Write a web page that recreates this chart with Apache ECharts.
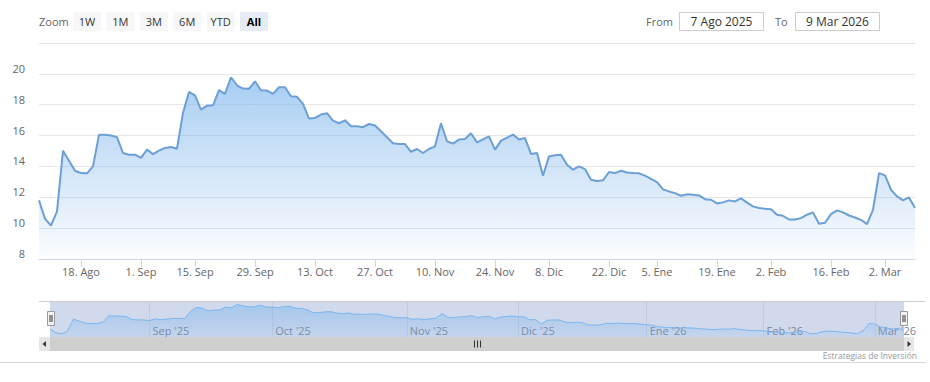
<!DOCTYPE html>
<html><head><meta charset="utf-8">
<script src="https://cdn.jsdelivr.net/npm/echarts@6/dist/echarts.min.js"></script>
<style>html,body{margin:0;padding:0;background:#fff}#c{width:930px;height:382px}</style>
</head><body><div id="c"></div>
<script>
// Trading days (categories)
const dates = [
 '2025-08-07','2025-08-08','2025-08-11','2025-08-12','2025-08-13','2025-08-14','2025-08-15','2025-08-18','2025-08-19','2025-08-20','2025-08-21','2025-08-22','2025-08-25','2025-08-26','2025-08-27','2025-08-28','2025-08-29',
 '2025-09-02','2025-09-03','2025-09-04','2025-09-05','2025-09-08','2025-09-09','2025-09-10','2025-09-11','2025-09-12','2025-09-15','2025-09-16','2025-09-17','2025-09-18','2025-09-19','2025-09-22','2025-09-23','2025-09-24','2025-09-25','2025-09-26','2025-09-29','2025-09-30',
 '2025-10-01','2025-10-02','2025-10-03','2025-10-06','2025-10-07','2025-10-08','2025-10-09','2025-10-10','2025-10-13','2025-10-14','2025-10-15','2025-10-16','2025-10-17','2025-10-20','2025-10-21','2025-10-22','2025-10-23','2025-10-24','2025-10-27','2025-10-28','2025-10-29','2025-10-30','2025-10-31',
 '2025-11-03','2025-11-04','2025-11-05','2025-11-06','2025-11-07','2025-11-10','2025-11-11','2025-11-12','2025-11-13','2025-11-14','2025-11-17','2025-11-18','2025-11-19','2025-11-20','2025-11-21','2025-11-24','2025-11-25','2025-11-26','2025-11-28',
 '2025-12-01','2025-12-02','2025-12-03','2025-12-04','2025-12-05','2025-12-08','2025-12-09','2025-12-10','2025-12-11','2025-12-12','2025-12-15','2025-12-16','2025-12-17','2025-12-18','2025-12-19','2025-12-22','2025-12-23','2025-12-24','2025-12-26','2025-12-29','2025-12-30','2025-12-31',
 '2026-01-02','2026-01-05','2026-01-06','2026-01-07','2026-01-08','2026-01-09','2026-01-12','2026-01-13','2026-01-14','2026-01-15','2026-01-16','2026-01-20','2026-01-21','2026-01-22','2026-01-23','2026-01-26','2026-01-27','2026-01-28','2026-01-29','2026-01-30',
 '2026-02-02','2026-02-03','2026-02-04','2026-02-05','2026-02-06','2026-02-09','2026-02-10','2026-02-11','2026-02-12','2026-02-13','2026-02-17','2026-02-18','2026-02-19','2026-02-20','2026-02-23','2026-02-24','2026-02-25','2026-02-26','2026-02-27',
 '2026-03-02','2026-03-03','2026-03-04','2026-03-05','2026-03-06','2026-03-09'
];
// Series values
const values = [
 11.8,10.6,10.17,11.08,15.02,14.37,13.72,13.57,13.55,14.0,16.06,16.06,16.0,15.9,14.87,14.76,14.76,
 14.55,15.09,14.8,15.02,15.2,15.26,15.15,17.47,18.83,18.6,17.68,17.94,17.96,18.94,18.7,19.78,19.26,19.05,19.03,19.52,18.94,
 18.92,18.70,19.13,19.13,18.55,18.51,18.05,17.10,17.14,17.36,17.45,16.97,16.80,16.99,16.60,16.60,16.54,16.75,16.65,16.28,15.89,15.50,15.45,
 15.45,14.94,15.13,14.87,15.13,15.30,16.80,15.63,15.48,15.74,15.78,16.15,15.56,15.76,15.95,15.09,15.67,15.87,16.06,
 15.74,15.84,14.81,14.87,13.40,14.65,14.72,14.76,14.11,13.79,14.0,13.83,13.14,13.05,13.10,13.64,13.57,13.72,13.61,13.57,13.55,13.40,
 13.20,12.99,12.51,12.38,12.27,12.10,12.19,12.16,12.12,11.88,11.84,11.60,11.67,11.80,11.73,11.93,11.65,11.41,11.30,11.26,
 11.23,10.87,10.80,10.56,10.56,10.65,10.87,11.02,10.28,10.35,10.91,11.15,11.02,10.82,10.69,10.54,10.26,11.19,13.57,
 13.42,12.49,12.06,11.80,11.99,11.30
];
// Main x-axis tick labels
const xTickDates = ['2025-08-18','2025-09-02','2025-09-15','2025-09-29','2025-10-13','2025-10-27','2025-11-10','2025-11-24','2025-12-08','2025-12-22','2026-01-05','2026-01-20','2026-02-02','2026-02-17','2026-03-02'];
const xTickLabels = ['18. Ago','1. Sep','15. Sep','29. Sep','13. Oct','27. Oct','10. Nov','24. Nov','8. Dic','22. Dic','5. Ene','19. Ene','2. Feb','16. Feb','2. Mar'];
// Navigator tick labels
const navTickDates = ['2025-09-02','2025-10-01','2025-11-03','2025-12-01','2026-01-02','2026-02-02','2026-03-02'];
const navTickLabels = ["Sep '25","Oct '25","Nov '25","Dic '25","Ene '26","Feb '26","Mar '26"];
// Y axis
const yMin = 8, yMax = 22, yStep = 2;
const zoomButtons = ['1W','1M','3M','6M','YTD','All'];
const fromText = '7 Ago 2025', toText = '9 Mar 2026';
const creditText = 'Estrategias de Inversión';

const FONT = '"Open Sans", "Liberation Sans", sans-serif';
const xMap = {}; xTickDates.forEach((d,i)=>xMap[d]=xTickLabels[i]);
const nMap = {}; navTickDates.forEach((d,i)=>nMap[d]=navTickLabels[i]);
const isX = (i,v)=> xMap[v] !== undefined;
const isN = (i,v)=> nMap[v] !== undefined;

const g = [];
function txt(x,y,t,opt){
  opt = opt||{};
  g.push({type:'text', z:20, silent:true, style:{x:x,y:y,text:t,fill:opt.fill||'#333',
    fontSize:opt.size||11, fontFamily:FONT, fontWeight:opt.bold?'bold':'normal',
    textAlign:opt.align||'left', textVerticalAlign:'middle', align:opt.align||'left', verticalAlign:'middle'}});
}
function rect(x,y,w,h,fill,stroke){
  g.push({type:'rect', z:15, silent:true, shape:{x:x,y:y,width:w,height:h},
    style:{fill:fill, stroke:stroke||null, lineWidth:stroke?1:0}});
}
function line(x1,y1,x2,y2,stroke,z){
  g.push({type:'line', z:z||16, silent:true, shape:{x1:x1,y1:y1,x2:x2,y2:y2}, style:{stroke:stroke,lineWidth:1}});
}
// range selector
txt(39,21.5,'Zoom',{fill:'#666'});
zoomButtons.forEach((b,k)=>{
  const x0 = 73 + k*33.4;
  rect(x0,12,28,19, k===5?'#e6ebf5':'#f7f7f7');
  txt(x0+14,21.5,b,{align:'center',fill:k===5?'#000':'#333',bold:k===5});
});
txt(646,21.5,'From',{fill:'#666'});
rect(679.5,12.5,84,18,'#fff','#cccccc');
txt(721.5,21.5,fromText,{align:'center',size:12});
txt(775,21.5,'To',{fill:'#666'});
rect(795.5,12.5,84,18,'#fff','#cccccc');
txt(837.5,21.5,toText,{align:'center',size:12});
// navigator outline
line(39,301.5,925,301.5,'#cccccc');
// handles
[47.5,900.5].forEach(hx=>{
  g.push({type:'rect', z:30, silent:true, shape:{x:hx,y:311.5,width:7,height:14}, style:{fill:'#f2f2f2',stroke:'#999',lineWidth:1}});
  line(hx+2.5,315,hx+2.5,322,'#333',31);
  line(hx+4.5,315,hx+4.5,322,'#333',31);
});
// scrollbar
rect(39,337,875,14,'#f2f2f2');
rect(50,337,854,14,'#cfcfcf');
rect(39,337,11,14,'#e6e6e6');
rect(904,337,10,14,'#e6e6e6');
g.push({type:'polygon', z:17, silent:true, shape:{points:[[46,341],[46,347],[42.5,344]]}, style:{fill:'#333'}});
g.push({type:'polygon', z:17, silent:true, shape:{points:[[907.5,341],[907.5,347],[911,344]]}, style:{fill:'#333'}});
[474.5,477.5,480.5].forEach(rx=>line(rx,340.5,rx,347.5,'#333',17));
// bottom separator + credits
line(0,362.5,926,362.5,'#d8d8d8');
txt(917,355,creditText,{align:'right',size:8.5,fill:'#999'});

const chart = echarts.init(document.getElementById('c'), null, {renderer:'svg'});
chart.setOption({
  animation:false,
  textStyle:{fontFamily:FONT},
  grid:[
    {left:39, top:43, width:876, height:216},
    {left:50, top:301, width:854, height:36, show:true, backgroundColor:'rgba(102,133,194,0.3)', borderWidth:0}
  ],
  xAxis:[
    {type:'category', gridIndex:0, data:dates, boundaryGap:false,
     axisLine:{lineStyle:{color:'#ccd6eb'}},
     axisTick:{show:true, interval:isX, length:8, lineStyle:{color:'#ccd6eb'}},
     axisLabel:{interval:isX, formatter:v=>xMap[v]||'', color:'#666', fontSize:11, fontFamily:FONT, margin:7},
     splitLine:{show:false}},
    {type:'category', gridIndex:1, data:dates, boundaryGap:false,
     axisLine:{show:false}, axisTick:{show:false},
     axisLabel:{inside:true, interval:isN, formatter:v=>nMap[v]||'', color:'#7a8294', fontSize:11, fontFamily:FONT, align:'left', padding:[0,0,0,3], margin:1},
     splitLine:{show:true, interval:isN, lineStyle:{color:'#c3cbdc', width:1}}}
  ],
  yAxis:[
    {type:'value', gridIndex:0, min:yMin, max:yMax, interval:yStep,
     axisLine:{show:false}, axisTick:{show:false},
     axisLabel:{formatter:v=>v===yMax?'':String(v), color:'#666', fontSize:11, fontFamily:FONT, margin:14, verticalAlign:'bottom'},
     splitLine:{lineStyle:{color:'#e6e6e6'}}},
    {type:'value', gridIndex:1, min:9.2, max:20.9, show:false, splitLine:{show:false}}
  ],
  series:[
    {type:'line', xAxisIndex:0, yAxisIndex:0, data:values, symbol:'none', silent:true,
     lineStyle:{color:'#6b9fd6', width:2},
     areaStyle:{color:{type:'linear',x:0,y:0,x2:0,y2:1,colorStops:[
       {offset:0,color:'rgba(124,181,236,0.95)'},{offset:1,color:'rgba(124,181,236,0.04)'}]}}},
    {type:'line', xAxisIndex:1, yAxisIndex:1, data:values, symbol:'none', silent:true,
     lineStyle:{color:'#7cb5ec', width:1},
     areaStyle:{color:{type:'linear',x:0,y:0,x2:0,y2:1,colorStops:[
       {offset:0,color:'rgba(124,181,236,0.75)'},{offset:1,color:'rgba(124,181,236,0.2)'}]}}}
  ],
  graphic:g
});
</script></body></html>
